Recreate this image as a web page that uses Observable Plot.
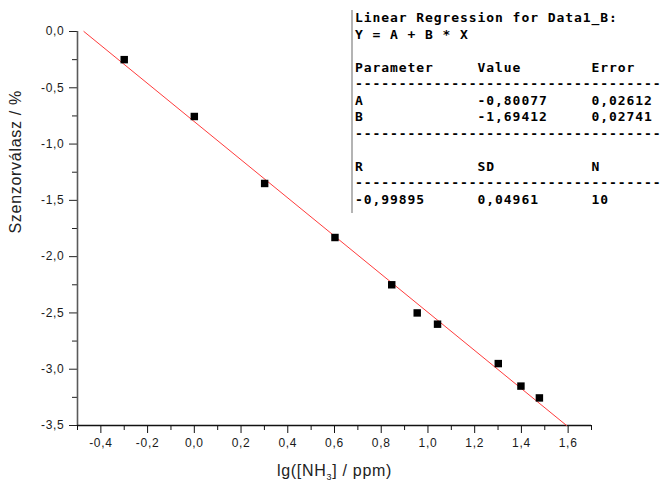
<!DOCTYPE html>
<html>
<head>
<meta charset="utf-8">
<script src="https://cdn.jsdelivr.net/npm/d3@7"></script>
<script src="https://cdn.jsdelivr.net/npm/@observablehq/plot@0.6"></script>
<style>
  body { margin: 0; background: #fff; }
  #wrap { position: relative; width: 669px; height: 487px; overflow: hidden; background: #fff; }
  #wrap svg { position: absolute; left: 0; top: 0; }
  #wrap svg text { letter-spacing: 0.7px; }
  #reg {
    position: absolute; left: 351px; top: 10px; height: 203px;
    border-left: 2px solid #b4b4b4; padding-left: 2px; margin: 0;
    font-family: "DejaVu Sans Mono", monospace; font-weight: bold; font-size: 13px;
    letter-spacing: 0.93px; line-height: 16.5px; white-space: pre; color: #000;
  }
</style>
</head>
<body>
<div id="wrap"></div>
<script>
// ---- data ----
const lgConc   = [-0.30, 0.00, 0.301, 0.602, 0.845, 0.954, 1.041, 1.301, 1.398, 1.477];
const response = [-0.25, -0.755, -1.35, -1.83, -2.25, -2.50, -2.60, -2.95, -3.15, -3.255];

const xMajorTicks = [-0.4, -0.2, 0.0, 0.2, 0.4, 0.6, 0.8, 1.0, 1.2, 1.4, 1.6];
const xMinorTicks = [-0.5, -0.3, -0.1, 0.1, 0.3, 0.5, 0.7, 0.9, 1.1, 1.3, 1.5, 1.7];
const yMajorTicks = [0.0, -0.5, -1.0, -1.5, -2.0, -2.5, -3.0, -3.5];
const yMinorTicks = [-0.25, -0.75, -1.25, -1.75, -2.25, -2.75, -3.25];

const xTitleParts = ["lg([NH", "3", "] / ppm)"];
const yTitle = "Szenzorválasz / %";

const regTitle = "Linear Regression for Data1_B:";
const regModel = "Y = A + B * X";
const paramHeaders = ["Parameter", "Value", "Error"];
const paramNames = ["A", "B"];
const paramValues = [-0.80077, -1.69412];
const paramErrors = [0.02612, 0.02741];
const statHeaders = ["R", "SD", "N"];
const statValues = ["-0,99895", "0,04961", "10"];

// ---- helpers ----
const comma1 = d => d.toFixed(1).replace(".", ",").replace(/^-0,0$/, "0,0");
const comma5 = d => d.toFixed(5).replace(".", ",");

const xDomain = [-0.5, 1.7];
const yDomain = [-3.5, 0];

const data = lgConc.map((x, i) => ({x, y: response[i]}));

// regression line from fitted coefficients, clipped to the y range of the frame
const A = paramValues[0], B = paramValues[1];
const regLine = [yDomain[1], yDomain[0]].map(yv => ({x: (yv - A) / B, y: yv}));

const plot = Plot.plot({
  width: 669,
  height: 487,
  marginLeft: 77,
  marginRight: 78,
  marginTop: 31,
  marginBottom: 62,
  style: {fontFamily: '"Liberation Sans", Arial, sans-serif', color: "#1a1a1a", background: "transparent", overflow: "visible"},
  x: {domain: xDomain},
  y: {domain: yDomain},
  marks: [
    Plot.axisX({ticks: xMinorTicks, tickSize: 5, tickFormat: () => "", label: null, stroke: "#111"}),
    Plot.axisX({ticks: xMajorTicks, tickSize: 8, tickPadding: 5, tickFormat: comma1, fontSize: 12, label: null, stroke: "#111"}),
    Plot.axisY({ticks: yMinorTicks, tickSize: 5, tickFormat: () => "", label: null, stroke: "#222"}),
    Plot.axisY({ticks: yMajorTicks, tickSize: 8, tickPadding: 5, tickFormat: comma1, fontSize: 12, label: null, stroke: "#222"}),
    Plot.ruleX([xDomain[0]], {stroke: "#5a5a5a", strokeWidth: 1.6}),
    Plot.ruleY([yDomain[0]], {stroke: "#111", strokeWidth: 1.5}),
    Plot.line(regLine, {x: "x", y: "y", stroke: "#ff3b3b", strokeWidth: 1}),
    Plot.dot(data, {x: "x", y: "y", symbol: "square", r: 4.2, fill: "#000", stroke: "none"}),
    Plot.text([yTitle], {frameAnchor: "left", dx: -62, dy: 5, rotate: -90, fontSize: 16, fill: "#222"}),
    Plot.text([xTitleParts.join("")], {frameAnchor: "bottom", dy: 50, fontSize: 16, fill: "#222", className: "xtitle"})
  ]
});

// render the subscript "3" in the x title as a small lowered tspan
const xt = plot.querySelector(".xtitle text");
if (xt) {
  xt.textContent = "";
  const ns = "http://www.w3.org/2000/svg";
  xTitleParts.forEach((p, i) => {
    const t = document.createElementNS(ns, "tspan");
    t.textContent = p;
    if (i === 1) { t.setAttribute("font-size", "9"); t.setAttribute("dy", "4"); }
    if (i === 2) { t.setAttribute("dy", "-4"); }
    xt.appendChild(t);
  });
}

const wrap = document.getElementById("wrap");
wrap.appendChild(plot);

// regression report text block
const dashes = "-".repeat(35);
const row = (a, b, c) => a.padEnd(14) + b.padEnd(13) + c;
const lines = [
  regTitle,
  regModel,
  "",
  row(...paramHeaders),
  dashes,
  ...paramNames.map((n, i) => row(n, comma5(paramValues[i]), comma5(paramErrors[i]))),
  dashes,
  "",
  row(...statHeaders),
  dashes,
  row(...statValues)
];
const pre = document.createElement("pre");
pre.id = "reg";
pre.textContent = lines.join("\n");
wrap.appendChild(pre);
</script>
</body>
</html>
